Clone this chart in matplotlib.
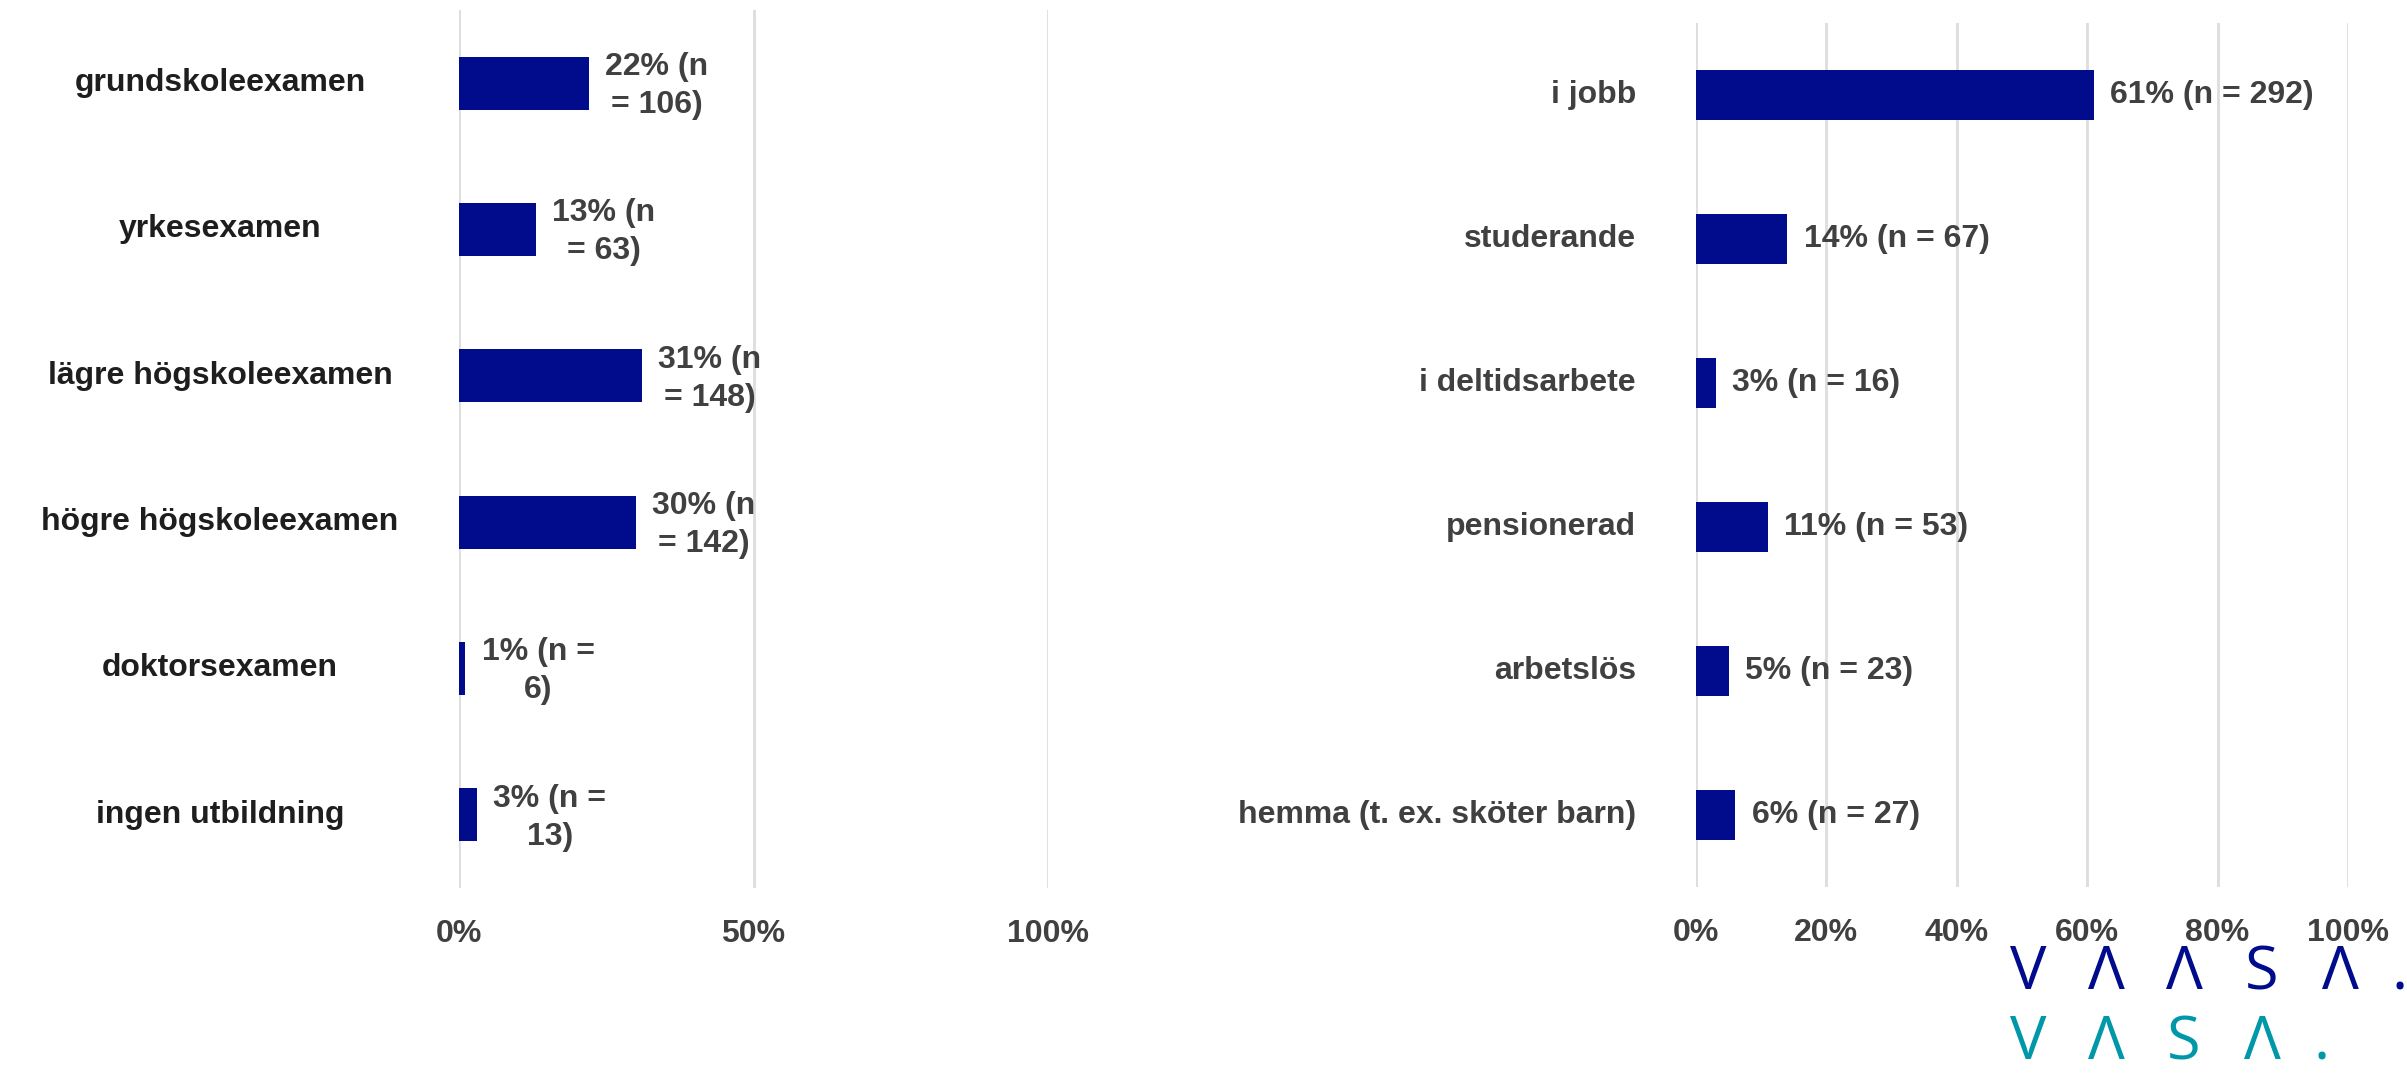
import textwrap
import matplotlib
matplotlib.use("Agg")
import matplotlib.pyplot as plt
import matplotlib.transforms as mtransforms
from matplotlib.ticker import FixedLocator

# ---- data ----
edu_labels = ["grundskoleexamen", "yrkesexamen", "lägre högskoleexamen",
              "högre högskoleexamen", "doktorsexamen", "ingen utbildning"]
edu_pct = [22, 13, 31, 30, 1, 3]
edu_n = [106, 63, 148, 142, 6, 13]

occ_labels = ["i jobb", "studerande", "i deltidsarbete", "pensionerad",
              "arbetslös", "hemma (t. ex. sköter barn)"]
occ_pct = [61, 14, 3, 11, 5, 6]
occ_n = [292, 67, 16, 53, 23, 27]

left_ticks = [0, 0.5, 1.0]
left_ticklabels = ["0%", "50%", "100%"]
right_ticks = [0, 0.2, 0.4, 0.6, 0.8, 1.0]
right_ticklabels = ["0%", "20%", "40%", "60%", "80%", "100%"]

logo_row1 = ["V", "Λ", "Λ", "S", "Λ", "."]
logo_row2 = ["V", "Λ", "S", "Λ", "."]

# ---- style ----
BAR = "#000c8c"
GRID = "#dddddd"
TXT = "#404040"
DARK = "#1e1e1e"
FONT = ["Liberation Sans", "DejaVu Sans"]
FS = 23

plt.rcParams["font.family"] = FONT

W, H = 2407, 1074
fig = plt.figure(figsize=(W / 100, H / 100), dpi=100)
fig.patch.set_facecolor("white")


def style_axes(ax, ticks, ticklabels, ncat):
    ax.set_xlim(0, 1.0)
    ax.set_ylim(ncat - 0.5, -0.5)
    for s in ax.spines.values():
        s.set_visible(False)
    ax.xaxis.set_major_locator(FixedLocator(ticks))
    ax.set_xticklabels(ticklabels, fontsize=FS, fontweight="bold", color=TXT)
    ax.tick_params(axis="x", length=0, pad=22)
    ax.set_yticks([])
    ax.grid(axis="x", color=GRID, linewidth=2)
    ax.set_axisbelow(True)


# left panel
axL = fig.add_axes([459 / W, 1 - 888 / H, 589 / W, 878 / H])
style_axes(axL, left_ticks, left_ticklabels, len(edu_labels))
yL = list(range(len(edu_labels)))
shares = [p / 100 for p in edu_pct]
axL.barh(yL, shares, height=0.36, color=BAR, zorder=3)
trL = mtransforms.blended_transform_factory(fig.transFigure, axL.transData)
for y, lab, p, n, v in zip(yL, edu_labels, edu_pct, edu_n, shares):
    axL.text(220 / W, y, lab, transform=trL,
             ha="center", va="center", fontsize=FS, fontweight="bold", color=DARK)
    s = textwrap.fill(f"{p}% (n = {n})", width=7)
    axL.annotate(s, (v, y), xytext=(12, -2), textcoords="offset points",
                 ha="left", va="center", multialignment="center",
                 fontsize=FS, fontweight="bold", color=TXT, linespacing=1.35)

# right panel
axR = fig.add_axes([1696 / W, 1 - 887 / H, 652 / W, 864 / H])
style_axes(axR, right_ticks, right_ticklabels, len(occ_labels))
yR = list(range(len(occ_labels)))
sharesR = [p / 100 for p in occ_pct]
axR.barh(yR, sharesR, height=0.35, color=BAR, zorder=3)
trR = mtransforms.blended_transform_factory(fig.transFigure, axR.transData)
for y, lab, p, n, v in zip(yR, occ_labels, occ_pct, occ_n, sharesR):
    axR.text(1636 / W, y, lab, transform=trR, ha="right", va="center",
             fontsize=FS, fontweight="bold", color=TXT)
    axR.annotate(f"{p}% (n = {n})", (v, y), xytext=(12, 0), textcoords="offset points",
                 ha="left", va="center", fontsize=FS, fontweight="bold", color=TXT)

# logo
LOGO_FONT = ["Open Sans", "DejaVu Sans"]
def draw_row(chars, y_px, va, color):
    x = 2028
    for i, c in enumerate(chars):
        fig.text(x / W, 1 - y_px / H, c, ha="center", va=va,
                 fontsize=44, color=color, family=LOGO_FONT, fontweight="normal")
        nxt = chars[i + 1] if i + 1 < len(chars) else None
        x += 60 if nxt == "." else 78

draw_row(logo_row1, 989, "baseline", "#000c8c")
draw_row(logo_row2, 1073, "bottom", "#0098a8")

fig.savefig("out.png", dpi=100, facecolor="white")
